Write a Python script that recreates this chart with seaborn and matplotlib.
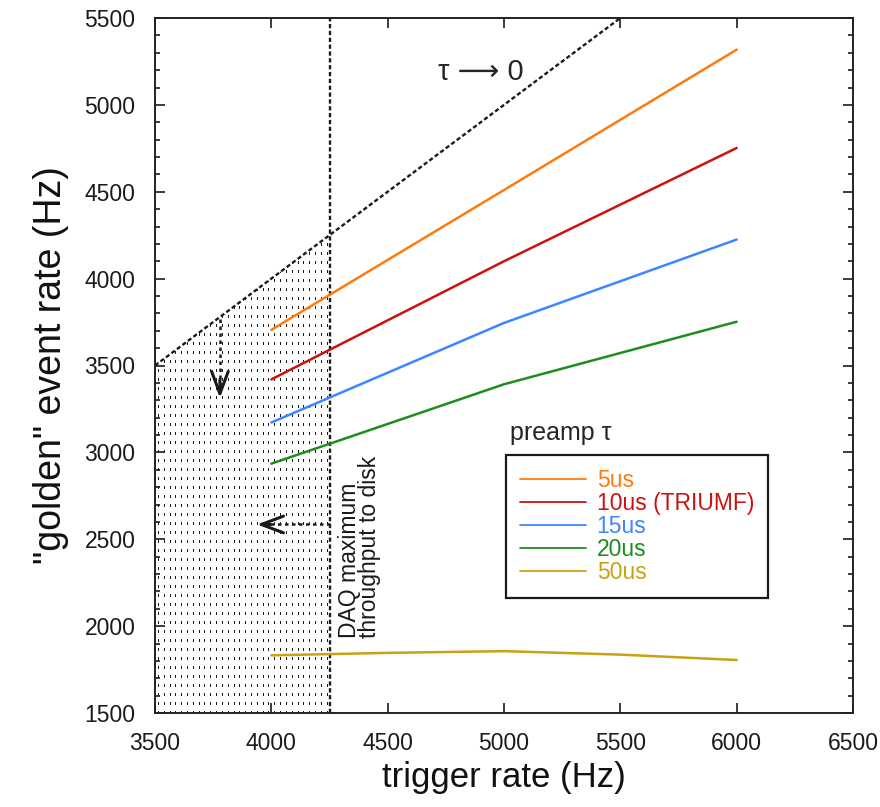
import numpy as np
import pandas as pd
import matplotlib
matplotlib.use("Agg")
import matplotlib.pyplot as plt
import seaborn as sns
from matplotlib.patches import Polygon
from matplotlib.lines import Line2D
from matplotlib.ticker import MultipleLocator

# ---- data -------------------------------------------------------------
trigger_rate = [4000, 5000, 6000]
rate_5us = [3705, 4510, 5318]
rate_10us = [3420, 4100, 4752]
rate_15us = [3172, 3745, 4225]
rate_20us = [2935, 3392, 3752]
trigger_rate_50us = [4000, 4500, 5000, 5500, 6000]
rate_50us = [1832, 1846, 1856, 1836, 1805]

tau_labels = ["5us", "10us (TRIUMF)", "15us", "20us", "50us"]
tau_colors = ["#ff7b0f", "#cc1111", "#3d86ff", "#1f8c1f", "#c9a214"]

daq_limit = 4250            # DAQ maximum throughput to disk (Hz)
ideal_line = [3500, 5500]   # tau -> 0: golden rate equals trigger rate

x_ticks = [3500, 4000, 4500, 5000, 5500, 6000, 6500]
y_ticks = [1500, 2000, 2500, 3000, 3500, 4000, 4500, 5000, 5500]

# ---- long-form table ---------------------------------------------------
series = [
    (trigger_rate, rate_5us),
    (trigger_rate, rate_10us),
    (trigger_rate, rate_15us),
    (trigger_rate, rate_20us),
    (trigger_rate_50us, rate_50us),
]
frames = []
for label, (xs, ys) in zip(tau_labels, series):
    frames.append(pd.DataFrame({"trigger": xs, "golden": ys, "tau": label}))
df = pd.concat(frames, ignore_index=True)

# ---- style --------------------------------------------------------------
sns.set_theme(style="ticks")
plt.rcParams["font.family"] = ["Liberation Sans", "DejaVu Sans"]

fig = plt.figure(figsize=(8.8, 8.07), dpi=100)
ax = fig.add_axes([155 / 880, 1 - 713 / 807, 698 / 880, 695 / 807])

xmin, xmax = x_ticks[0], x_ticks[-1]
ymin, ymax = y_ticks[0], y_ticks[-1]

# dotted texture over the region below the DAQ limit and the ideal line
region = Polygon([(xmin, ymin), (xmin, xmin), (daq_limit, daq_limit),
                  (daq_limit, ymin)], closed=True, facecolor="none",
                 edgecolor="none", transform=ax.transData)
ax.add_patch(region)
texture_x = np.arange(xmin + 12.5, daq_limit, 25)
vl = ax.vlines(texture_x, ymin, ymax, colors="k",
               linestyles=[(0, (2.0, 5.5))], linewidth=0.8,
               antialiased=False)
vl.set_clip_path(region)

# tau -> 0 line and DAQ limit
ax.plot(ideal_line, ideal_line, color="k", lw=1.7, ls=(0, (1.8, 1.1)))
ax.axvline(daq_limit, color="k", lw=1.7, ls=(0, (1.8, 1.1)))

palette = dict(zip(tau_labels, tau_colors))
sns.lineplot(data=df, x="trigger", y="golden", hue="tau",
             hue_order=tau_labels, palette=palette, lw=1.8,
             estimator=None, legend=False, ax=ax)

ax.set_xlim(xmin, xmax)
ax.set_ylim(ymin, ymax)
ax.set_xticks(x_ticks)
ax.set_yticks(y_ticks)
ax.yaxis.set_minor_locator(MultipleLocator(100))
ax.tick_params(which="both", direction="in", top=True, right=True,
               color="k", width=1.2)
ax.tick_params(which="major", length=7, labelsize=16.5, pad=14,
               labelcolor="#1a1a1a")
ax.tick_params(which="minor", length=3.5)
for sp in ax.spines.values():
    sp.set_visible(True)
    sp.set_linewidth(1.4)
    sp.set_color("#222222")

ax.set_xlabel("trigger rate (Hz)", fontsize=25, labelpad=4, color="#111111")
ax.set_ylabel('"golden" event rate (Hz)', fontsize=27, labelpad=11,
              color="#111111")

# annotations
ax.text(4901, 5189, "τ ⟶ 0", fontsize=21, ha="center", va="center",
        family=["Liberation Sans", "DejaVu Sans"])
ax.text(5026, 3071, "preamp τ", fontsize=18, ha="left", va="baseline")
ax.text(4285, 1930, "DAQ maximum\nthroughput to disk", rotation=90,
        fontsize=16.5, ha="left", va="bottom", multialignment="left",
        linespacing=0.85, color="#1a1a1a")

# horizontal arrow: throughput limit
arrow_y = 2585
ax.plot([daq_limit, 3965], [arrow_y, arrow_y], color="k", lw=1.8,
        ls=(0, (1.4, 1.4)))
ax.annotate("", xy=(3938, arrow_y), xytext=(3995, arrow_y),
            arrowprops=dict(arrowstyle="->,head_length=0.8,head_width=0.3",
                            lw=2.2, color="k", shrinkA=0, shrinkB=0,
                            mutation_scale=20))
# vertical arrow: golden rate capped
arrow_x = 3779
ax.plot([arrow_x, arrow_x], [3770, 3350], color="k", lw=1.8,
        ls=(0, (1.4, 1.4)))
ax.annotate("", xy=(arrow_x, 3313), xytext=(arrow_x, 3420),
            arrowprops=dict(arrowstyle="->,head_length=0.8,head_width=0.3",
                            lw=2.2, color="k", shrinkA=0, shrinkB=0,
                            mutation_scale=20))

# legend
handles = [Line2D([0], [0], color=c, lw=1.3) for c in tau_colors]
leg = ax.legend(handles, tau_labels, loc="upper left",
                bbox_to_anchor=(0.503, 0.371), borderaxespad=0,
                frameon=True, fancybox=False, shadow=False, edgecolor="k",
                framealpha=1, fontsize=16.5, handlelength=2.9,
                handletextpad=0.45, labelspacing=0.0, borderpad=0.6,
                labelcolor="linecolor")
leg.get_frame().set_linewidth(1.6)

fig.savefig("out.png", dpi=100)
